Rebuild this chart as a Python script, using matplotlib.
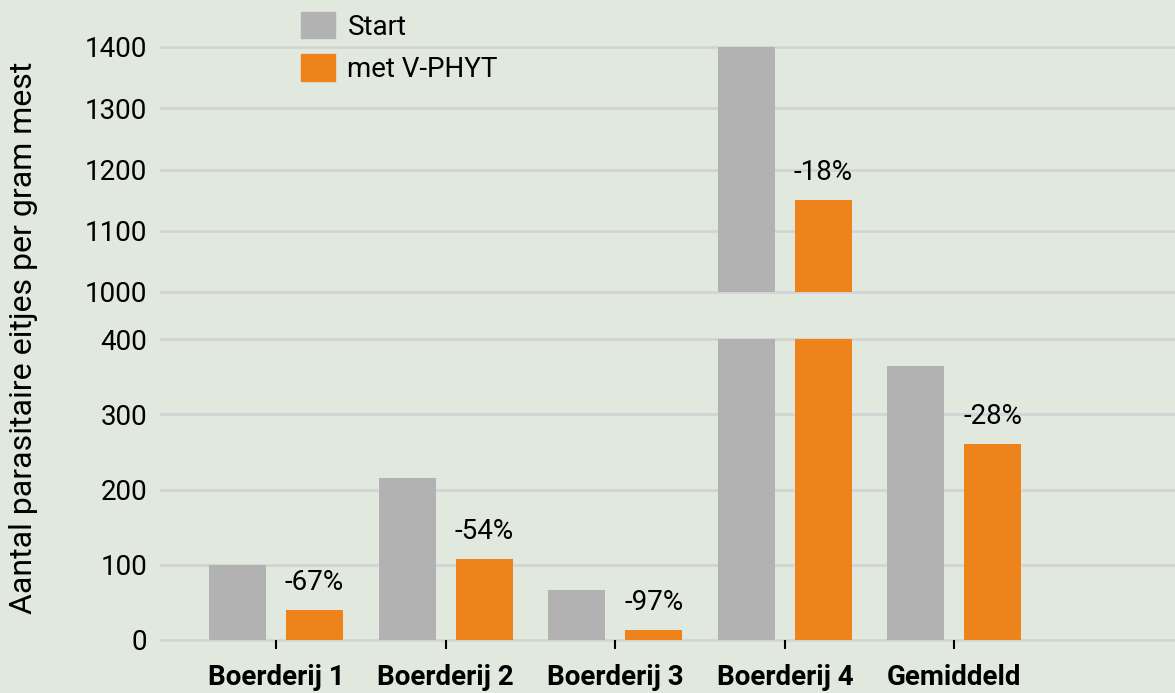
import matplotlib
matplotlib.use("Agg")
import matplotlib.pyplot as plt
from matplotlib.patches import Patch
import numpy as np

# data
categories = ["Boerderij 1", "Boerderij 2", "Boerderij 3", "Boerderij 4", "Gemiddeld"]
start = [100, 215, 66, 1400, 364]
met_vphyt = [40, 107, 13, 1150, 260]
changes = ["-67%", "-54%", "-97%", "-18%", "-28%"]
low_ticks = [0, 100, 200, 300, 400]
high_ticks = [1000, 1100, 1200, 1300, 1400]

plt.rcParams["font.family"] = ["Roboto", "DejaVu Sans"]

bg = "#e1e8de"
grey = "#b2b2b2"
orange = "#ef831b"
gridc = "#d3d3d3"

fig = plt.figure(figsize=(11.75, 6.93), dpi=100, facecolor=bg)
left, right = 161 / 1175, 1.0
ax_hi = fig.add_axes([left, 1 - 292 / 693, right - left, (292 - 47) / 693])
ax_lo = fig.add_axes([left, 1 - 640 / 693, right - left, (640 - 339) / 693])

x = np.arange(len(categories))
w = 0.336
off = 0.227

for ax, ticks in [(ax_hi, high_ticks), (ax_lo, low_ticks)]:
    ax.set_facecolor(bg)
    ax.bar(x - off, start, w, color=grey, zorder=2)
    ax.bar(x + off, met_vphyt, w, color=orange, zorder=2)
    ax.set_ylim(ticks[0], ticks[-1])
    ax.set_yticks(ticks)
    ax.set_xlim(-0.678, 5.30)
    for t in ticks:
        ax.axhline(t, color=gridc, lw=2, zorder=1, clip_on=False)
    for s in ax.spines.values():
        s.set_visible(False)
    ax.tick_params(axis="y", length=0, pad=10, labelsize=20)

ax_hi.set_xticks([])

ax_lo.set_xticks(x)
ax_lo.set_xticklabels(categories, fontweight="bold", fontsize=20)
ax_lo.tick_params(axis="x", length=6.5, width=1.5, color="black", pad=11)

# percentage labels above the orange bars
for i, (v, lab) in enumerate(zip(met_vphyt, changes)):
    ax = ax_hi if v > 400 else ax_lo
    ax.annotate(lab, (x[i] + off, v), xytext=(0, 20), textcoords="offset points",
                ha="center", va="center", fontsize=20)

fig.text(24 / 1175, 1 - 338 / 693, "Aantal parasitaire eitjes per gram mest",
         rotation=90, ha="center", va="center", fontsize=23)

handles = [Patch(color=grey, label="Start"), Patch(color=orange, label="met V-PHYT")]
fig.legend(handles=handles, loc="upper left", bbox_to_anchor=(301 / 1175, 1 - 12 / 693),
           frameon=False, fontsize=20, borderpad=0, borderaxespad=0,
           handlelength=1.22, handleheight=1.08, labelspacing=0.5, handletextpad=0.45)

fig.savefig("out.png", dpi=100, facecolor=bg)
